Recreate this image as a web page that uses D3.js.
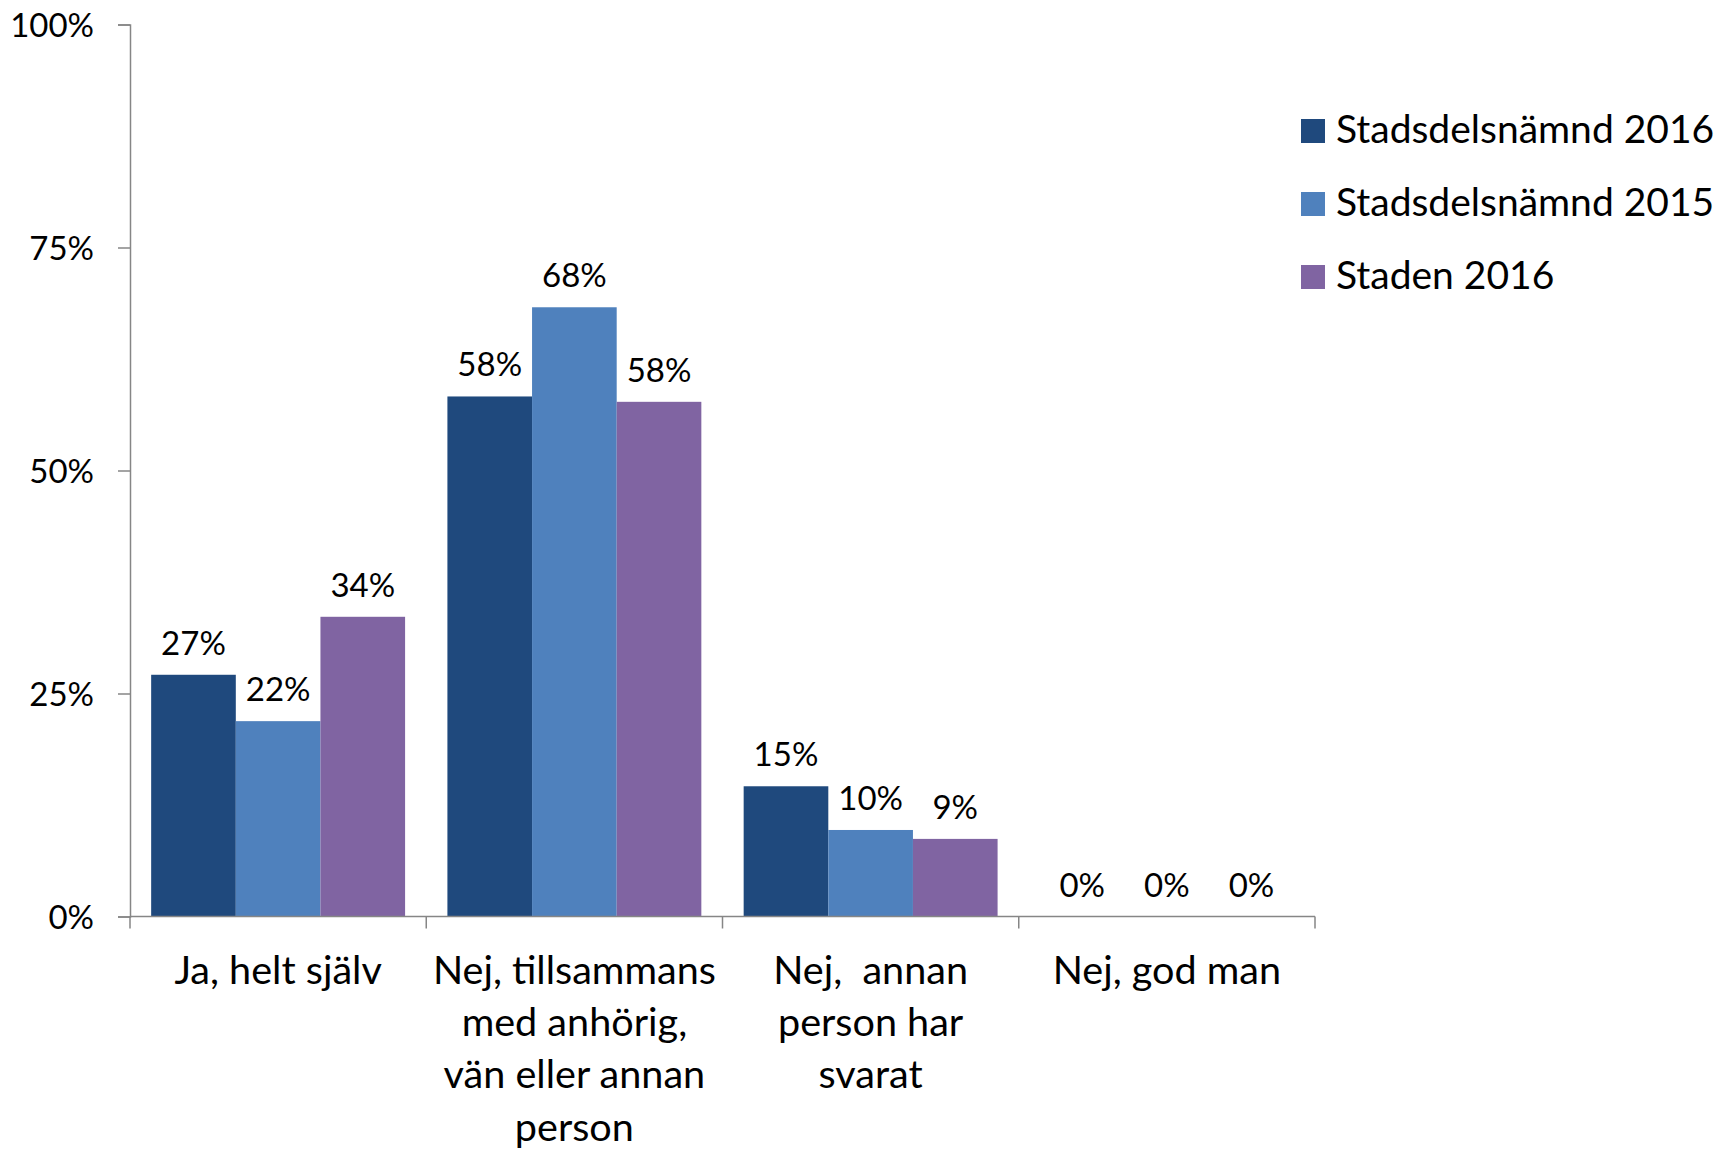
<!DOCTYPE html>
<html>
<head>
<meta charset="utf-8">
<script src="https://cdn.jsdelivr.net/npm/d3@7"></script>
<style>
  html, body { margin: 0; padding: 0; background: #fff; }
  svg { display: block; }
  text { font-family: Lato, "Noto Sans", sans-serif; fill: #000; white-space: pre; }
</style>
</head>
<body>
<svg id="chart" width="1721" height="1149"></svg>
<script>
// ---- data ----
const categories = [
  ["Ja, helt själv"],
  ["Nej, tillsammans", "med anhörig,", "vän eller annan", "person"],
  ["Nej,  annan", "person har", "svarat"],
  ["Nej, god man"]
];
const seriesNames = ["Stadsdelsnämnd 2016", "Stadsdelsnämnd 2015", "Staden 2016"];
const seriesColors = ["#1F497D", "#4F81BD", "#8064A2"];
const stadsdelsnamnd2016 = [0.271, 0.583, 0.146, 0];
const stadsdelsnamnd2015 = [0.219, 0.683, 0.097, 0];
const staden2016 = [0.336, 0.577, 0.087, 0];
const yTicks = [0, 0.25, 0.5, 0.75, 1];

const seriesValues = [stadsdelsnamnd2016, stadsdelsnamnd2015, staden2016];
const catKeys = categories.map(c => c.join(" "));

// ---- layout ----
const svg = d3.select("#chart");
const plotLeft = 130, plotRight = 1315, plotTop = 24.5, plotBottom = 916.5;
const axisColor = "#868686";

const y = d3.scaleLinear().domain([0, 1]).range([plotBottom, plotTop]);
const x0 = d3.scaleBand().domain(catKeys).range([plotLeft, plotRight]).paddingInner(0).paddingOuter(0);
const x1 = d3.scaleBand().domain(d3.range(seriesNames.length)).range([0, x0.bandwidth()])
  .paddingInner(0).paddingOuter(0.25);

// bars
const g = svg.append("g");
seriesValues.forEach((vals, si) => {
  g.selectAll(null).data(vals).enter().append("rect")
    .attr("x", (d, i) => x0(catKeys[i]) + x1(si))
    .attr("y", d => y(d))
    .attr("width", x1.bandwidth())
    .attr("height", d => plotBottom - y(d))
    .attr("fill", seriesColors[si]);
});

// y axis
const yAxis = d3.axisLeft(y).tickValues(yTicks).tickSize(12).tickFormat(d3.format(".0%"));
const ya = svg.append("g").attr("transform", `translate(${plotLeft},0)`).call(yAxis);
ya.select(".domain").attr("stroke", axisColor).attr("stroke-width", 1.5);
ya.selectAll(".tick line").attr("stroke", axisColor).attr("stroke-width", 1.5);
ya.selectAll(".tick text").attr("x", -36).attr("dy", "0.36em")
  .style("font-size", "33px").style("font-family", "Lato, sans-serif").attr("fill", "#000");

// x axis (ticks at category boundaries)
const xa = svg.append("g");
xa.append("line").attr("x1", plotLeft).attr("x2", plotRight).attr("y1", plotBottom).attr("y2", plotBottom)
  .attr("stroke", axisColor).attr("stroke-width", 1.5);
const boundaries = catKeys.map(k => x0(k)).concat([x0(catKeys[catKeys.length - 1]) + x0.bandwidth()]);
xa.selectAll(null).data(boundaries).enter().append("line")
  .attr("x1", d => d).attr("x2", d => d).attr("y1", plotBottom).attr("y2", plotBottom + 12)
  .attr("stroke", axisColor).attr("stroke-width", 1.5);

// category labels
categories.forEach((lines, i) => {
  const cx = x0(catKeys[i]) + x0.bandwidth() / 2;
  const t = svg.append("text").attr("text-anchor", "middle").style("font-size", "39.6px");
  lines.forEach((ln, li) => {
    t.append("tspan").attr("x", cx).attr("y", 984 + li * 52.2).text(ln);
  });
});

// data labels
seriesValues.forEach((vals, si) => {
  svg.selectAll(null).data(vals).enter().append("text")
    .attr("x", (d, i) => x0(catKeys[i]) + x1(si) + x1.bandwidth() / 2)
    .attr("y", d => y(d) - 20)
    .attr("text-anchor", "middle")
    .style("font-size", "33px")
    .text(d => Math.round(d * 100) + "%");
});

// legend
const legend = svg.append("g");
seriesNames.forEach((name, i) => {
  const ly = 119 + i * 73;
  legend.append("rect").attr("x", 1301).attr("y", ly).attr("width", 24).attr("height", 24)
    .attr("fill", seriesColors[i]);
  legend.append("text").attr("x", 1336).attr("y", ly + 24).style("font-size", "39px").text(name);
});
</script>
</body>
</html>
